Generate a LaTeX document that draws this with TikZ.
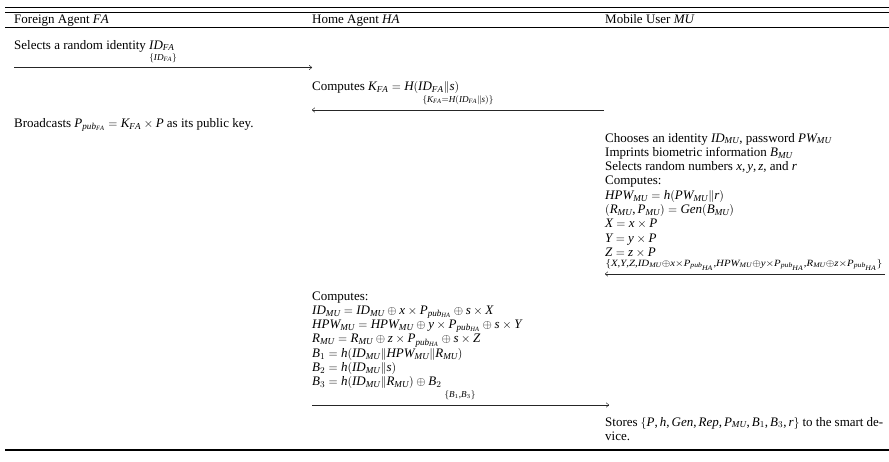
\documentclass[tikz,border=0pt]{standalone}
\usepackage{fontspec}
\usepackage{graphicx}
\setmainfont{Liberation Serif}
\DeclareSymbolFont{letters}{TU}{\rmdefault}{m}{it}
\mathcode`,="602C
\mathcode`.="002E
\usetikzlibrary{arrows.meta}
\begin{document}
\begin{tikzpicture}[x=1pt,y=-1pt,
  txt/.style={anchor=base west,inner sep=0pt,text height=9pt,text depth=3pt,font=\fontsize{13}{14.3}\selectfont},
  lbl/.style={anchor=base,inner sep=0pt,font=\fontsize{13}{14.3}\selectfont},
  msg/.style={-{To[length=3pt,width=5pt]},line width=0.5pt,draw=black!85},
  rulethin/.style={line width=0.8pt},
  rulethick/.style={line width=1.2pt}]
\useasboundingbox (0,0) rectangle (889,461);
% rules
\draw[rulethin] (5,7.3) -- (889,7.3);
\draw[rulethin] (5,12.3) -- (889,12.3);
\draw[rulethin] (5,27.3) -- (889,27.3);
\draw[rulethick] (5,450) -- (889,450);
% header
\node[txt] (hFA) at (14,23) {Foreign Agent $FA$};
\node[txt] (hHA) at (312,23) {Home Agent $HA$};
\node[txt] (hMU) at (605,23) {Mobile User $MU$};
% FA selects
\node[txt] (fa1) at (14,49) {Selects a random identity $ID_{FA}$};
\coordinate (a1s) at (14,67.5);
\coordinate (a1e) at (312,67.5);
\draw[msg] (a1s) -- (a1e);
\node[lbl] (m1) at (163,60) {$\scriptstyle\{ID_{FA}\}$};
% HA computes K
\node[txt] (ha1) at (312,90.5) {Computes $K_{FA}=H(ID_{FA}\|s)$};
\coordinate (a2s) at (604,110);
\coordinate (a2e) at (312,110);
\draw[msg] (a2s) -- (a2e);
\node[lbl] (m2) at (458,102.5) {$\scriptstyle\{K_{FA}=H(ID_{FA}\|s)\}$};
% FA broadcasts
\node[txt] (fa2) at (14,127.6) {Broadcasts $P_{pub_{FA}}=K_{FA}\times P$ as its public key.};
% MU registration
\node[txt] (mu1) at (605,142) {Chooses an identity $ID_{MU}$, password $PW_{MU}$};
\node[txt] (mu2) at (605,156.3) {Imprints biometric information $B_{MU}$};
\node[txt] (mu3) at (605,170.6) {Selects random numbers $x,y,z$, and $r$};
\node[txt] (mu4) at (605,184.9) {Computes:};
\node[txt] (mu5) at (605,199.2) {$HPW_{MU}=h(PW_{MU}\|r)$};
\node[txt] (mu6) at (605,213.5) {$(R_{MU},P_{MU})=Gen(B_{MU})$};
\node[txt] (mu7) at (605,227.8) {$X=x\times P$};
\node[txt] (mu8) at (605,242.1) {$Y=y\times P$};
\node[txt] (mu9) at (605,256.4) {$Z=z\times P$};
\coordinate (a3s) at (885,274);
\coordinate (a3e) at (605,274);
\draw[msg] (a3s) -- (a3e);
\node[lbl] (m3) at (744,266.5) {\scalebox{1.19}[1.05]{$\scriptstyle\{X,Y,Z,ID_{MU}\oplus x\times P_{pub_{HA}},HPW_{MU}\oplus y\times P_{pub_{HA}},R_{MU}\oplus z\times P_{pub_{HA}}\}$}};
% HA computes
\node[txt] (hb1) at (312,300) {Computes:};
\node[txt] (hb2) at (312,314.3) {$ID_{MU}=ID_{MU}\oplus x\times P_{pub_{HA}}\oplus s\times X$};
\node[txt] (hb3) at (312,328.6) {$HPW_{MU}=HPW_{MU}\oplus y\times P_{pub_{HA}}\oplus s\times Y$};
\node[txt] (hb4) at (312,342.9) {$R_{MU}=R_{MU}\oplus z\times P_{pub_{HA}}\oplus s\times Z$};
\node[txt] (hb5) at (312,357.2) {$B_1=h(ID_{MU}\|HPW_{MU}\|R_{MU})$};
\node[txt] (hb6) at (312,371.5) {$B_2=h(ID_{MU}\|s)$};
\node[txt] (hb7) at (312,385.8) {$B_3=h(ID_{MU}\|R_{MU})\oplus B_2$};
\coordinate (a4s) at (312,405);
\coordinate (a4e) at (609,405);
\draw[msg] (a4s) -- (a4e);
\node[lbl] (m4) at (460,397.5) {$\scriptstyle\{B_1,B_3\}$};
% MU stores
\node[txt] (mu10) at (605,426) {\hbox to 278pt{Stores $\{P,h,Gen,Rep,P_{MU},B_1,B_3,r\}$ to the smart de-}};
\node[txt] (mu11) at (605,440.3) {vice.};
\end{tikzpicture}
\end{document}
